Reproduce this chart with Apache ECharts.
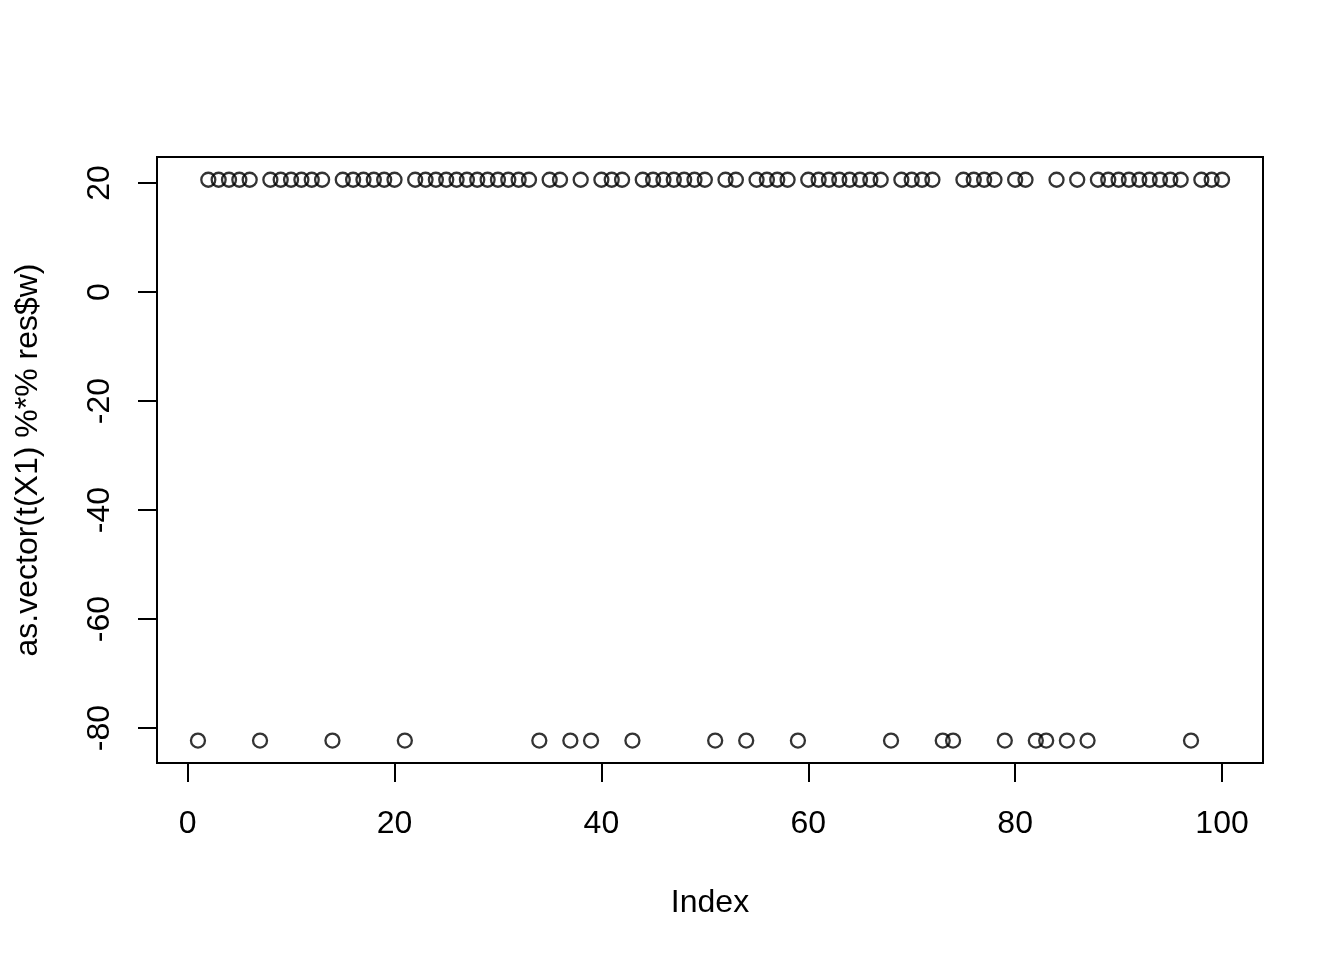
<!DOCTYPE html>
<html>
<head>
<meta charset="utf-8">
<script src="https://cdn.jsdelivr.net/npm/echarts@6/dist/echarts.min.js"></script>
<style>html,body{margin:0;padding:0;background:#fff}#c{width:1344px;height:960px}</style>
</head>
<body>
<div id="c"></div>
<script>
// Values (index 1..100)
const HI = 20.6;
const LO = -82.3;
const values = [
  LO, HI, HI, HI, HI, HI, LO, HI, HI, HI,   // 1-10
  HI, HI, HI, LO, HI, HI, HI, HI, HI, HI,   // 11-20
  LO, HI, HI, HI, HI, HI, HI, HI, HI, HI,   // 21-30
  HI, HI, HI, LO, HI, HI, LO, HI, LO, HI,   // 31-40
  HI, HI, LO, HI, HI, HI, HI, HI, HI, HI,   // 41-50
  LO, HI, HI, LO, HI, HI, HI, HI, LO, HI,   // 51-60
  HI, HI, HI, HI, HI, HI, HI, LO, HI, HI,   // 61-70
  HI, HI, LO, LO, HI, HI, HI, HI, LO, HI,   // 71-80
  HI, LO, LO, HI, LO, HI, LO, HI, HI, HI,   // 81-90
  HI, HI, HI, HI, HI, HI, LO, HI, HI, HI    // 91-100
];
const xTicks = [0, 20, 40, 60, 80, 100];
const yTicks = [-80, -60, -40, -20, 0, 20];
const xLabel = 'Index';
const yLabel = 'as.vector(t(X1) %*% res$w)';

const points = values.map((v, i) => [i + 1, v]);

const FONT = 'Liberation Sans, Arial, sans-serif';
const chart = echarts.init(document.getElementById('c'), null, {renderer: 'canvas'});
chart.setOption({
  animation: false,
  backgroundColor: '#fff',
  grid: {
    left: 157, right: 81, top: 157, bottom: 197,
    outerBoundsMode: 'none',
    containLabel: false,
    show: true, borderColor: '#000', borderWidth: 2, backgroundColor: 'transparent'
  },
  xAxis: {
    type: 'value',
    min: -2.96, max: 103.96,
    name: xLabel, nameLocation: 'middle', nameGap: 124,
    nameTextStyle: {fontFamily: FONT, fontSize: 32, color: '#000'},
    axisLine: {show: false, onZero: false},
    splitLine: {show: false},
    axisTick: {show: true, length: 19, customValues: xTicks, lineStyle: {color: '#000', width: 2}},
    axisLabel: {customValues: xTicks, margin: 45, fontFamily: FONT, fontSize: 32, color: '#000'}
  },
  yAxis: {
    type: 'value',
    min: -86.42, max: 24.77,
    name: yLabel, nameLocation: 'middle', nameGap: 113, nameRotate: 90,
    nameTextStyle: {fontFamily: FONT, fontSize: 32, color: '#000'},
    axisLine: {show: false, onZero: false},
    splitLine: {show: false},
    axisTick: {show: true, length: 19, customValues: yTicks, lineStyle: {color: '#000', width: 2}},
    axisLabel: {customValues: yTicks, rotate: 90, margin: 41, fontFamily: FONT, fontSize: 32, color: '#000'}
  },
  series: [{
    type: 'scatter',
    data: points,
    symbol: 'circle',
    symbolSize: 14,
    itemStyle: {color: 'transparent', borderColor: '#000', borderWidth: 2.3}
  }]
});
</script>
</body>
</html>
